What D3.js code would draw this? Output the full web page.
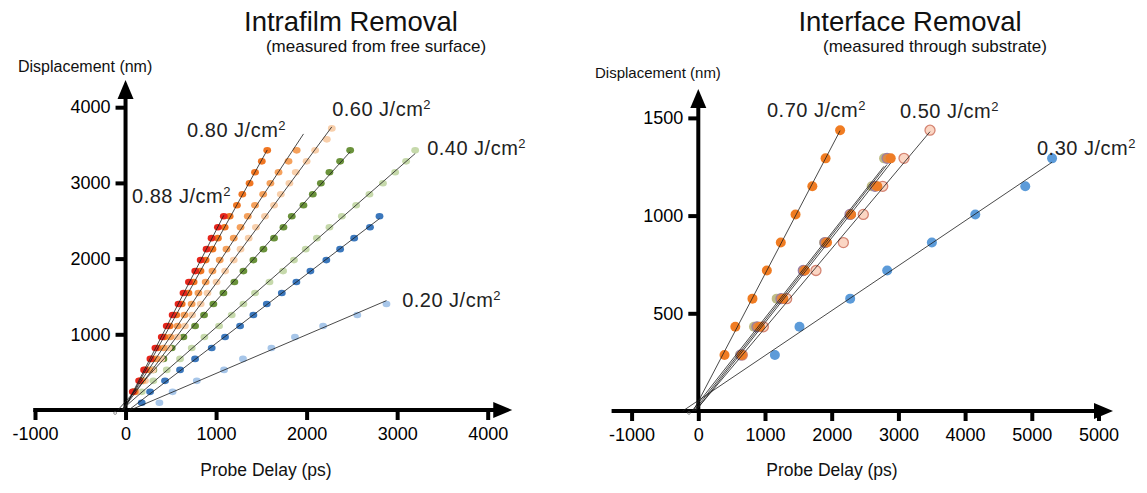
<!DOCTYPE html>
<html><head><meta charset="utf-8">
<script src="https://cdn.jsdelivr.net/npm/d3@7"></script>
<style>
html,body{margin:0;padding:0;background:#fff;}
svg{display:block;font-family:"Liberation Sans",Arial,Helvetica,sans-serif;}
</style></head><body>
<svg id="chart" width="1147" height="493"></svg>
<script>
// ---------------- DATA ----------------
// Left panel: displacement levels (nm) shared by all series, and probe delays (ps) per series
const leftLevels = [95,240,385,530,675,820,965,1110,1255,1400,1545,1690,1835,1980,2125,2270,2415,2560,2705,2850,2995,3140,3285,3430,3575,3720];
const leftRed = [80,150,205,275,330,400,455,520,585,640,700,770,830,895,950,1020,1085];                 // from level 1
const leftDarkOrange = [95,160,222,295,355,428,488,560,620,695,752,828,885,960,1020,1095,1150,1230,1290,1370,1430,1505,1565]; // from level 1
const leftOrange = [106,184,262,340,420,495,575,650,730,805,885,960,1040,1115,1195,1270,1350,1430,1520,1600,1690,1800,1890]; // from level 1
const leftPeach = [120,215,300,395,475,570,655,735,830,905,1005,1100,1195,1270,1360,1440,1540,1640,1715,1810,1880,2000,2094,2223,2278]; // from level 1
const leftDarkGreen = [86,197,307,418,510,639,768,867,970,1081,1202,1302,1412,1523,1640,1744,1836,1965,2068,2157,2252,2370,2481]; // from level 1
const leftLightGreen = [179,307,455,602,731,871,1033,1173,1302,1430,1590,1740,1860,1990,2113,2252,2389,2547,2694,2843,2978,3099,3199]; // from level 1
const leftDarkBlue = [179,271,436,602,768,952,1099,1265,1412,1560,1726,1887,2042,2218,2370,2525,2700,2805]; // from level 0
const leftLightBlue = [374,520,787,1088,1297,1611,1871,2182,2560,2882]; // from level 0

// Right panel
const rightLevels = [287,431,575,719,862,1006,1150,1293,1437];
const rightOrange070 = [393,555,812,1028,1237,1458,1710,1908,2126];
const rightOlive050 = [624,835,1175,1585,1885,2290,2600,2785];
const rightMauve050 = [640,880,1240,1574,1900,2275,2650,2830];
const rightOrange050 = [655,925,1275,1600,1930,2290,2684,2885];
const rightPeach050 = [660,975,1325,1764,2175,2474,2765,3084,3474];
const rightBlue030 = [1148,1517,2277,2832,3502,4153,4902,5304];

// Ticks
const leftXTicks = [-1000,0,1000,2000,3000,4000];
const leftXTickLabels = ["-1000","0","1000","2000","3000","4000"];
const leftYTicks = [1000,2000,3000,4000];
const rightXTicks = [-1000,0,1000,2000,3000,4000,5000,6000];
const rightXTickLabels = ["-1000","0","1000","2000","3000","4000","5000","5000"];
const rightYTicks = [500,1000,1500];

// Fluence labels (anchored in data units: delay, displacement)
const leftLabelText = ["0.88","0.80","0.60","0.40","0.20"];
const leftLabelDelay = [72,680,2282,3331,3055];
const leftLabelDisp = [2734,3606,3884,3369,1361];
const rightLabelText = ["0.70","0.50","0.30"];
const rightLabelDelay = [1030,3024,5078];
const rightLabelDisp = [1505,1499,1310];

// ---------------- DRAW ----------------
const svg = d3.select("#chart");
const defs = svg.append("defs");
defs.append("filter").attr("id","soft").attr("x","-50%").attr("y","-50%").attr("width","200%").attr("height","200%")
  .append("feGaussianBlur").attr("stdDeviation",0.6);

function toPoints(delays, levels, start){
  return delays.map((d,i)=>({x:d, y:levels[start+i]}));
}
function fit(pts){
  const mx=d3.mean(pts,p=>p.x), my=d3.mean(pts,p=>p.y);
  let sxy=0,sxx=0; pts.forEach(p=>{sxy+=(p.x-mx)*(p.y-my); sxx+=(p.x-mx)*(p.x-mx);});
  const m=sxy/sxx; return {m, b: my-m*mx};
}

function drawPanel(cfg){
  const {x,y} = cfg;
  const g = svg.append("g");
  const xa = g.append("g").attr("transform",`translate(0,${y(0)})`)
    .call(d3.axisBottom(x).tickValues(cfg.xTicks).tickSize(10).tickPadding(7).tickSizeOuter(0)
      .tickFormat((d,i)=>cfg.xLabels[i]));
  const ya = g.append("g").attr("transform",`translate(${x(0)},0)`)
    .call(d3.axisLeft(y).tickValues(cfg.yTicks).tickSize(10).tickPadding(5).tickSizeOuter(0)
      .tickFormat(d=>String(d)));
  [xa,ya].forEach(a=>{
    a.attr("font-family",null).attr("font-size",null);
    a.select(".domain").remove();
    a.selectAll(".tick line").attr("stroke","#000").attr("stroke-width",4);
    a.selectAll(".tick text").attr("fill","#000").style("font-size","18px");
  });
  const x0=x(cfg.xStart), xTip=x(cfg.xTip), yTip=y(cfg.yTip), oy=y(0), ox=x(0);
  g.append("line").attr("x1",x0).attr("x2",xTip-14).attr("y1",oy).attr("y2",oy).attr("stroke","#000").attr("stroke-width",4);
  g.append("path").attr("d",`M${xTip},${oy} L${xTip-19},${oy-8} L${xTip-19},${oy+8} Z`).attr("fill","#000");
  g.append("line").attr("x1",ox).attr("x2",ox).attr("y1",oy+2).attr("y2",yTip+14).attr("stroke","#000").attr("stroke-width",4);
  g.append("path").attr("d",`M${ox},${yTip} L${ox-8},${yTip+19} L${ox+8},${yTip+19} Z`).attr("fill","#000");

  const pg = g.append("g").attr("filter","url(#soft)");
  cfg.series.forEach(s=>{
    const pts = toPoints(s.delays, cfg.levels, s.start);
    s.pts = pts;
    if(cfg.ellipse){
      pg.selectAll(null).data(pts).enter().append("ellipse")
        .attr("cx",d=>x(d.x)).attr("cy",d=>y(d.y)).attr("rx",3.9).attr("ry",3.3)
        .attr("fill",s.fill).attr("fill-opacity",s.op||1);
    } else {
      pg.selectAll(null).data(pts).enter().append("circle")
        .attr("cx",d=>x(d.x)).attr("cy",d=>y(d.y)).attr("r",5)
        .attr("fill",s.fill).attr("fill-opacity",s.op||1)
        .attr("stroke",s.stroke||"none").attr("stroke-width",1.3);
    }
  });
  cfg.series.forEach(s=>{
    const f = fit(s.pts);
    const xs = -f.b/f.m, xe = d3.max(s.pts,p=>p.x)*(s.ext||1);
    g.append("line").attr("x1",x(xs)).attr("y1",y(0)).attr("x2",x(xe)).attr("y2",y(f.m*xe+f.b))
      .attr("stroke","#1a1a1a").attr("stroke-width",0.8);
  });
  g.append("circle").attr("cx",x(cfg.markX)).attr("cy",y(cfg.markY)).attr("r",1.4)
    .attr("fill","none").attr("stroke","#555").attr("stroke-width",0.6);
  cfg.labText.forEach((t,i)=>{
    const tx = g.append("text").attr("x",x(cfg.labDelay[i])).attr("y",y(cfg.labDisp[i]))
      .attr("fill","#222").style("font-size","20px").style("letter-spacing","0.5px");
    tx.append("tspan").text(t+" J/cm");
    tx.append("tspan").text("2").style("font-size","13px").attr("dy",-7);
  });
}

const lx = d3.scaleLinear().domain([-1000,4000]).range([35,487.7]);
const ly = d3.scaleLinear().domain([0,4000]).range([410,107.2]);
drawPanel({
  x:lx, y:ly, xTicks:leftXTicks, xLabels:leftXTickLabels, yTicks:leftYTicks, levels:leftLevels, ellipse:true,
  xStart:-1020, xTip:4271, yTip:4359, markX:-115, markY:-40,
  series:[
    {delays:leftLightBlue, start:0, fill:"#a7c6e9"},
    {delays:leftDarkBlue, start:0, fill:"#3a77bc"},
    {delays:leftLightGreen, start:1, fill:"#c6d9ab"},
    {delays:leftDarkGreen, start:1, fill:"#6b923b"},
    {delays:leftPeach, start:1, fill:"#f8cfab"},
    {delays:leftOrange, start:1, fill:"#f5a15c", ext:1.04},
    {delays:leftDarkOrange, start:1, fill:"#f07622"},
    {delays:leftRed, start:1, fill:"#e6281c"}
  ],
  labText:leftLabelText, labDelay:leftLabelDelay, labDisp:leftLabelDisp
});

const rx = d3.scaleLinear().domain([-1000,6000]).range([631.6,1098.5]);
const ry = d3.scaleLinear().domain([0,1500]).range([411,117.9]);
drawPanel({
  x:rx, y:ry, xTicks:rightXTicks, xLabels:rightXTickLabels, yTicks:rightYTicks, levels:rightLevels, ellipse:false,
  xStart:-1300, xTip:6217, yTip:1648, markX:-140, markY:-10,
  series:[
    {delays:rightPeach050, start:0, fill:"#fbd6c4", stroke:"#d58573"},
    {delays:rightBlue030, start:0, fill:"#5b9bd9"},
    {delays:rightOlive050, start:0, fill:"#b9b679", op:0.9},
    {delays:rightMauve050, start:0, fill:"#d98a4a", stroke:"#9c7fa3"},
    {delays:rightOrange050, start:0, fill:"#ee7b26"},
    {delays:rightOrange070, start:0, fill:"#f07c22"}
  ],
  labText:rightLabelText, labDelay:rightLabelDelay, labDisp:rightLabelDisp
});

function txt(x,y,s,size,anchor){
  return svg.append("text").attr("x",x).attr("y",y).attr("text-anchor",anchor||"middle")
    .attr("fill","#111").style("font-size",size+"px").text(s);
}
txt(351,31,"Intrafilm Removal",27.5);
txt(376,52,"(measured from free surface)",17);
txt(910,31,"Interface Removal",27.5);
txt(935,52,"(measured through substrate)",17);
txt(18,72,"Displacement (nm)",16,"start");
txt(595,78,"Displacement (nm)",15,"start");
txt(266,476,"Probe Delay (ps)",17.5);
txt(832,476,"Probe Delay (ps)",17.5);
</script>
</body></html>
